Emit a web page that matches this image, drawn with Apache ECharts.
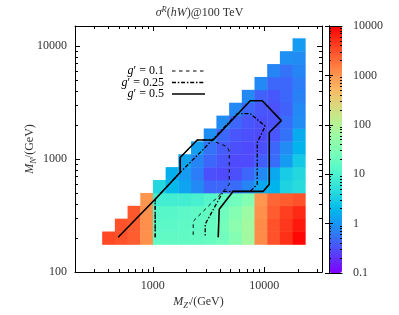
<!DOCTYPE html>
<html><head><meta charset="utf-8">
<script src="https://cdn.jsdelivr.net/npm/echarts@6/dist/echarts.min.js"></script>
<style>html,body{margin:0;padding:0;background:#fff}#c{width:399px;height:315px}</style>
</head><body><div id="c"></div>
<script>
// M_Z' grid (columns) and M_N grid (rows), GeV
const MZ = [400,520,676,879,1142,1485,1931,2510,3263,4242,5515,7169,9320,12116,15751,20476];
const MN = [200,260,338,439,571,743,965,1255,1632,2121,2758,3585,4661,6059,7877,10240];
// sigma values; row j (M_N = MN[j]) lists columns j..15
const SIGMA = [
 [3500,3000,2600,1100,16,16,16,17,18,22,35,70,1200,3000,5000,9000],
 [3000,2600,1100,14,14,15,16,18,24,40,70,1200,3000,4500,7000],
 [2800,1100,13,13,14,15,17,22,35,60,1100,2600,4000,5500],
 [1000,8,8,8,9,12,16,22,35,1000,2200,2600,3000],
 [4,2,1.3,0.8,0.45,0.45,0.5,0.75,1.4,1.8,3.5,4.5],
 [1.6,1.1,0.65,0.32,0.3,0.32,0.45,0.8,1.4,3,4],
 [1.3,0.75,0.45,0.35,0.3,0.3,0.4,0.5,1.1,2.8],
 [1.2,0.55,0.38,0.32,0.3,0.32,0.45,0.85,1.8],
 [0.9,0.45,0.35,0.32,0.3,0.35,0.55,1.5],
 [0.85,0.45,0.35,0.32,0.33,0.5,0.85],
 [0.8,0.45,0.36,0.33,0.42,0.8],
 [0.8,0.42,0.36,0.45,0.7],
 [0.8,0.45,0.45,0.65],
 [0.75,0.55,0.75],
 [0.9,0.85],
 [1.1]
];
// contour lines [M_Z', M_N]
const G01 = [[1049,203],[1049,440],[1759,760],[1759,1031],[2500,1470],[3300,1470],[4600,1290],[4850,1180],[4850,596],[4285,517],[2302,281],[2302,203]];
const G025 = [[1049,203],[1049,440],[1759,760],[2831,1213],[5718,2517],[7482,2517],[10200,1950],[8650,1397],[8650,596],[7482,517],[4285,517],[2951,265],[2951,203]];
const G05 = [[488,203],[1049,440],[1759,760],[1759,1031],[2500,1470],[3483,1470],[7482,3275],[9601,3275],[14220,2183],[11090,1712],[11090,596],[9795,517],[5265,517],[3943,359],[3862,203]];
const XMAJ = [1000,10000];
const XMIN = [200,300,400,500,600,700,800,900,2000,3000,4000,5000,6000,7000,8000,9000,20000,30000];
const YMAJ = [100,1000,10000];
const YMIN = [200,300,400,500,600,700,800,900,2000,3000,4000,5000,6000,7000,8000,9000];
const CMAJ = [0.1,1,10,100,1000,10000];
const CMIN = [0.2,0.3,0.4,0.5,0.6,0.7,0.8,0.9,2,3,4,5,6,7,8,9,20,30,40,50,60,70,80,90,200,300,400,500,600,700,800,900,2000,3000,4000,5000,6000,7000,8000,9000];

const cells = [];
SIGMA.forEach((row, j) => row.forEach((v, k) => {
  const i = j + k;
  cells.push([MZ[i], MN[j], Math.log10(v), v, i, j]);
}));
function edge(arr, i) {
  const lo = i > 0 ? Math.sqrt(arr[i-1]*arr[i]) : arr[0]*arr[0]/Math.sqrt(arr[0]*arr[1]);
  const n = arr.length;
  const hi = i < n-1 ? Math.sqrt(arr[i]*arr[i+1]) : arr[n-1]*arr[n-1]/Math.sqrt(arr[n-2]*arr[n-1]);
  return [lo, hi];
}
// gnuplot-like rainbow palette (rgbformulae 33,13,10)
const pal = [];
for (let s = 0; s <= 20; s++) {
  const t = s/20;
  const r = Math.min(1, Math.abs(2*t-0.5)), g = Math.max(0, Math.sin(Math.PI*t)), b = Math.max(0, Math.cos(Math.PI*t/2));
  pal.push('rgb(' + Math.round(r*255) + ',' + Math.round(g*255) + ',' + Math.round(b*255) + ')');
}

const FONT = 'Liberation Serif';
const TXT = '#333';
const richBase = {
  n: {fontFamily: FONT, fontSize: 12, color: TXT, fontWeight: 'normal', lineHeight: 16},
  i: {fontFamily: FONT, fontSize: 12, color: TXT, fontWeight: 'normal', fontStyle: 'italic', lineHeight: 16},
  sub: {fontFamily: FONT, fontSize: 8.5, color: TXT, fontWeight: 'normal', fontStyle: 'italic', verticalAlign: 'bottom', lineHeight: 16},
  sup: {fontFamily: FONT, fontSize: 8.5, color: TXT, fontWeight: 'normal', fontStyle: 'italic', verticalAlign: 'top', lineHeight: 16}
};
function tickAxis(grid, pos, vals, len, opt) {
  return Object.assign({
    gridIndex: grid, type: 'log', logBase: 10, position: pos, z: 10,
    axisLine: {show: false}, splitLine: {show: false}, minorTick: {show: false},
    axisTick: {show: true, inside: true, length: len, customValues: vals, lineStyle: {color: '#000', width: 1}},
    axisLabel: {show: false}
  }, opt);
}
const X0 = {min: 200, max: 33000};
const Y0 = {min: 100, max: 15000};
const C0 = {min: 0.1, max: 10000};
const line = {show: true, lineStyle: {color: '#000', width: 1}};
const labelStyle = {color: TXT, fontFamily: FONT, fontSize: 12};

const option = {
  animation: false,
  title: {
    text: '{i|σ}{sup|R}{n|(}{i|hW}{n|)@100 TeV}',
    left: 'center', top: 0,
    textStyle: {fontWeight: 'normal', rich: richBase}
  },
  grid: [
    {left: 75, top: 26, width: 247, height: 247},
    {left: 329, top: 26, width: 13, height: 247}
  ],
  xAxis: [
    tickAxis(0, 'bottom', XMAJ, 5, Object.assign({}, X0, {
      axisLine: line,
      axisLabel: {show: true, customValues: XMAJ, margin: 8, formatter: v => String(Math.round(v)), ...labelStyle},
      name: '{i|M}{sub|Z′}{n|/(GeV)}', nameLocation: 'middle', nameGap: 22, nameMoveOverlap: false,
      nameTextStyle: {rich: richBase}
    })),
    tickAxis(0, 'bottom', XMIN, 3, X0),
    tickAxis(0, 'top', XMAJ, 5, Object.assign({}, X0, {axisLine: line})),
    tickAxis(0, 'top', XMIN, 3, X0),
    {gridIndex: 1, type: 'value', min: 0, max: 1, position: 'bottom', z: 10, axisLine: line, axisTick: {show: false}, axisLabel: {show: false}, splitLine: {show: false}},
    {gridIndex: 1, type: 'value', min: 0, max: 1, position: 'top', z: 10, axisLine: line, axisTick: {show: false}, axisLabel: {show: false}, splitLine: {show: false}}
  ],
  yAxis: [
    tickAxis(0, 'left', YMAJ, 5, Object.assign({}, Y0, {
      axisLine: line,
      axisLabel: {show: true, customValues: YMAJ, margin: 8, formatter: v => String(Math.round(v)), ...labelStyle},
      name: '{i|M}{sub|N}{n|/(GeV)}', nameLocation: 'middle', nameGap: 37, nameRotate: 90, nameMoveOverlap: false,
      nameTextStyle: {rich: richBase}
    })),
    tickAxis(0, 'left', YMIN, 3, Y0),
    tickAxis(0, 'right', YMAJ, 5, Object.assign({}, Y0, {axisLine: line})),
    tickAxis(0, 'right', YMIN, 3, Y0),
    tickAxis(1, 'right', CMAJ, 4, Object.assign({}, C0, {
      axisLine: line,
      axisLabel: {show: true, customValues: CMAJ, margin: 11, formatter: v => v < 1 ? '0.1' : String(Math.round(v)), ...labelStyle}
    })),
    tickAxis(1, 'left', CMAJ, 4, Object.assign({}, C0, {axisLine: line})),
    tickAxis(1, 'right', CMIN, 2, C0),
    tickAxis(1, 'left', CMIN, 2, C0)
  ],
  visualMap: {
    type: 'continuous', min: -1, max: 4, dimension: 2, seriesIndex: 0,
    calculable: false, text: null, padding: 0, itemWidth: 13, itemHeight: 247,
    left: 329, top: 26, orient: 'vertical', hoverLink: false, z: 1,
    inRange: {color: pal}, textStyle: {color: 'transparent'}
  },
  series: [
    {
      type: 'custom', xAxisIndex: 0, yAxisIndex: 0, data: cells, z: 2,
      encode: {x: 0, y: 1},
      renderItem(params, api) {
        const i = api.value(4), j = api.value(5);
        const ex = edge(MZ, i), ey = edge(MN, j);
        const p0 = api.coord([ex[0], ey[1]]);
        const p1 = api.coord([ex[1], ey[0]]);
        return {
          type: 'rect',
          shape: {x: p0[0], y: p0[1], width: p1[0]-p0[0] + 0.4, height: p1[1]-p0[1] + 0.4},
          style: {fill: api.visual('color')}
        };
      }
    },
    {type: 'line', name: 'g′ = 0.1', data: G01, symbol: 'none', z: 3, xAxisIndex: 0, yAxisIndex: 0,
     lineStyle: {color: '#000', width: 1, type: [3.5, 3.5]}},
    {type: 'line', name: 'g′ = 0.25', data: G025, symbol: 'none', z: 3, xAxisIndex: 0, yAxisIndex: 0,
     lineStyle: {color: '#000', width: 1.3, type: [4, 1.8, 1.5, 1.8]}},
    {type: 'line', name: 'g′ = 0.5', data: G05, symbol: 'none', z: 3, xAxisIndex: 0, yAxisIndex: 0,
     lineStyle: {color: '#000', width: 1.6}}
  ],
  graphic: [
    {type: 'text', x: 164, y: 71, style: {text: '{i|g}{n|′ = 0.1}', rich: richBase, align: 'right', verticalAlign: 'middle'}},
    {type: 'text', x: 164, y: 82.5, style: {text: '{i|g}{n|′ = 0.25}', rich: richBase, align: 'right', verticalAlign: 'middle'}},
    {type: 'text', x: 164, y: 94, style: {text: '{i|g}{n|′ = 0.5}', rich: richBase, align: 'right', verticalAlign: 'middle'}},
    {type: 'line', shape: {x1: 172, y1: 71, x2: 205, y2: 71}, style: {stroke: '#000', lineWidth: 1, lineDash: [3.5, 3.5]}},
    {type: 'line', shape: {x1: 172, y1: 82.5, x2: 205, y2: 82.5}, style: {stroke: '#000', lineWidth: 1.3, lineDash: [4, 1.8, 1.5, 1.8]}},
    {type: 'line', shape: {x1: 172, y1: 94, x2: 205, y2: 94}, style: {stroke: '#000', lineWidth: 1.6}}
  ]
};
const chart = echarts.init(document.getElementById('c'), null, {renderer: 'canvas'});
chart.setOption(option);
</script></body></html>
